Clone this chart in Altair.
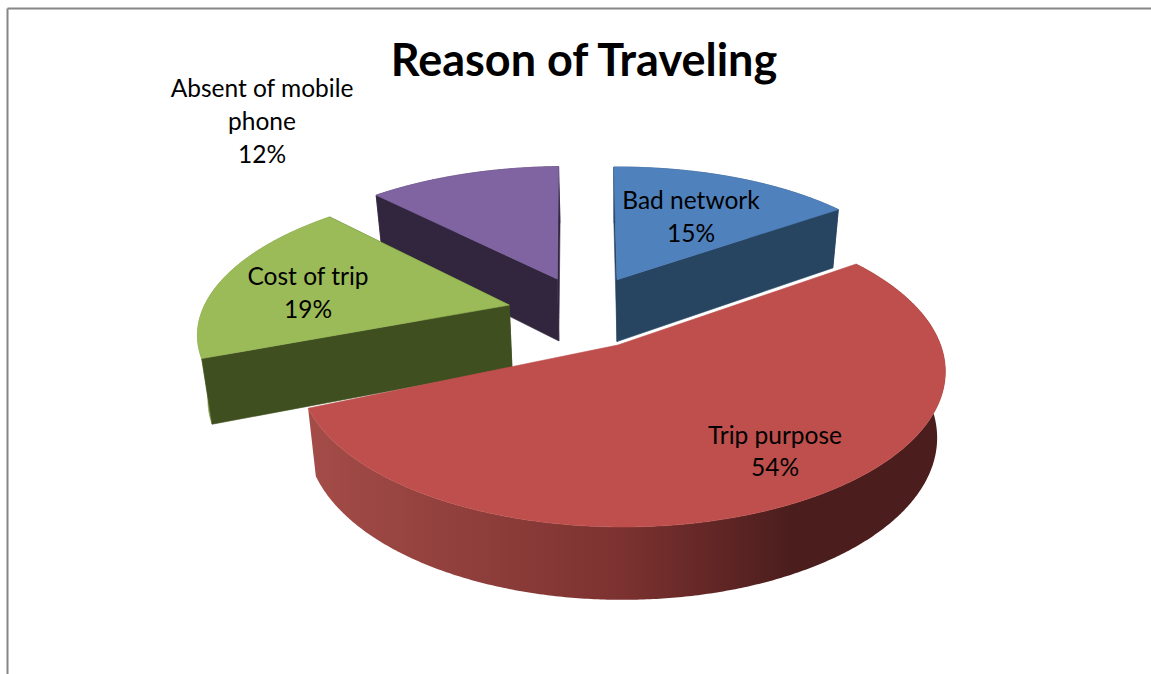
import numpy as np
import pandas as pd
import altair as alt

# Chart values
categories = ["Bad network", "Trip purpose", "Cost of trip", "Absent of mobile phone"]
shares = [15, 54, 19, 12]

# Label text, one entry per line of text
label_lines = ["Absent of mobile", "phone", "12%", "Bad network", "15%",
               "Cost of trip", "19%", "Trip purpose", "54%"]
label_x = [262, 262, 262, 691, 691, 308, 308, 775, 775]
label_y = [90, 123, 156, 202, 235, 278, 311, 437, 469]

# Slice styling: top face, cut face, outer wall
top_colors = ["#4F81BD", "#BE4F4C", "#9BBB59", "#8064A2"]
cut_colors = ["#274461", "#6E2B29", "#404F20", "#32263F"]
wall_colors = ["#2C4D75", "#7A2F2F", "#7F9A49", "#4D3B62"]

# Ground-plane offset of each slice from the pie axis (exploded view)
offset_x = [0.0, 0.015, -0.35, -0.2]
offset_y = [0.465, 0.0, 0.276, 0.47]
apex_x = [0.0, 0.003, -0.35, -0.2]
radius = [1.0, 1.0, 0.99, 1.0]
x_scale = [1.0, 0.99, 1.0, 1.0]

# Small rotation of each slice's edges, in degrees
start_turn = [-0.7, 0.0, 0.0, -1.0]
end_turn = [0.0, -1.4, -1.0, -1.5]

# Projection of the tilted pie onto the page
CX, CY = 617, 345
RX, RY = 322, 151.4
P_TOP, P_DEPTH = 0.168, 0.108
DEPTH = 65
BOTTOM_SHRINK = 0.975


def top_point(gx, gy):
    s = 1 + P_TOP * gy
    return CX + RX * gx / s, CY - RY * gy / s


def bottom_point(gx, gy):
    x, y = top_point(gx, gy)
    return CX + (x - CX) * BOTTOM_SHRINK, y + DEPTH / (1 + P_DEPTH * gy)


def rim(i, a0, a1):
    t = np.radians(np.linspace(a0, a1, max(int(abs(a1 - a0)), 2) * 2))
    return offset_x[i] + x_scale[i] * radius[i] * np.sin(t), offset_y[i] + radius[i] * np.cos(t)


def polygon(points, fill):
    xs = [p[0] for p in points] + [points[0][0]]
    ys = [p[1] for p in points] + [points[0][1]]
    frame = pd.DataFrame({"x": xs, "y": ys, "n": range(len(xs))})
    stroke = fill if isinstance(fill, str) else "#6E2B29"
    return alt.Chart(frame).mark_line(fill=fill, stroke=stroke, strokeWidth=0.6 if isinstance(fill, str) else 0).encode(
        x=alt.X("x:Q", scale=alt.Scale(domain=[0, 1151]), axis=None),
        y=alt.Y("y:Q", scale=alt.Scale(domain=[674, 0]), axis=None),
        order="n:Q",
    )


red_wall_fill = alt.Gradient(
    gradient="linear", x1=0, x2=1, y1=0, y2=0,
    stops=[
        alt.GradientStop(color="#A44C48", offset=0),
        alt.GradientStop(color="#7C3230", offset=0.49),
        alt.GradientStop(color="#4B1D1D", offset=0.76),
        alt.GradientStop(color="#4B1D1D", offset=1),
    ],
)


def slice_layers(i, a0, a1):
    gx, gy = rim(i, a0, a1)
    top_rim = [top_point(a, b) for a, b in zip(gx, gy)]
    low_rim = [bottom_point(a, b) for a, b in zip(gx, gy)]
    apex_top = top_point(apex_x[i], offset_y[i])
    apex_low = bottom_point(apex_x[i], offset_y[i])
    layers = []
    # Outer wall
    wall_fill = red_wall_fill if i == 1 else wall_colors[i]
    layers.append(polygon(top_rim + low_rim[::-1], wall_fill))
    # The two radial cut faces; the large front slice hides both of its own
    if i != 1:
        layers.append(polygon([apex_top, top_rim[0], low_rim[0], apex_low], cut_colors[i]))
        layers.append(polygon([apex_top, top_rim[-1], low_rim[-1], apex_low], cut_colors[i]))
    # Top face
    layers.append(polygon([apex_top] + top_rim, top_colors[i]))
    return layers


edges = np.cumsum([0] + shares) * 3.6
angles = {i: (edges[i] + start_turn[i], edges[i + 1] + end_turn[i]) for i in range(len(shares))}

layers = []
for i in [0, 3, 2, 1]:  # painted back to front
    layers += slice_layers(i, *angles[i])

shared_x = alt.Scale(domain=[0, 1151])
shared_y = alt.Scale(domain=[674, 0])

labels = alt.Chart(pd.DataFrame({"t": label_lines, "x": label_x, "y": label_y})).mark_text(
    font="Lato", fontSize=24.5, color="#000000", align="center", baseline="middle"
).encode(
    x=alt.X("x:Q", scale=shared_x, axis=None),
    y=alt.Y("y:Q", scale=shared_y, axis=None),
    text="t:N",
)

title = alt.Chart(pd.DataFrame({"t": ["Reason of Traveling"], "x": [584], "y": [62]})).mark_text(
    font="Lato", fontSize=45, fontWeight="bold", color="#000000", align="center", baseline="middle"
).encode(
    x=alt.X("x:Q", scale=shared_x, axis=None),
    y=alt.Y("y:Q", scale=shared_y, axis=None),
    text="t:N",
)

# Chart frame: only its top and left edges fall inside the page
frame_top = alt.Chart(pd.DataFrame({"a": [0]})).mark_rule(color="#868686", strokeWidth=2).encode(
    x=alt.value(7.5), x2=alt.value(1151), y=alt.value(8.5)
)
frame_left = alt.Chart(pd.DataFrame({"a": [0]})).mark_rule(color="#868686", strokeWidth=2).encode(
    x=alt.value(7.5), y=alt.value(8.5), y2=alt.value(674)
)

chart = alt.layer(frame_top, frame_left, *layers, labels, title).properties(
    width=1151, height=674, padding=0, background="#FFFFFF",
    autosize=alt.AutoSizeParams(type="none"),
).configure_view(stroke=None)

chart.save("out.html", embed_options={"renderer": "svg", "actions": False})
